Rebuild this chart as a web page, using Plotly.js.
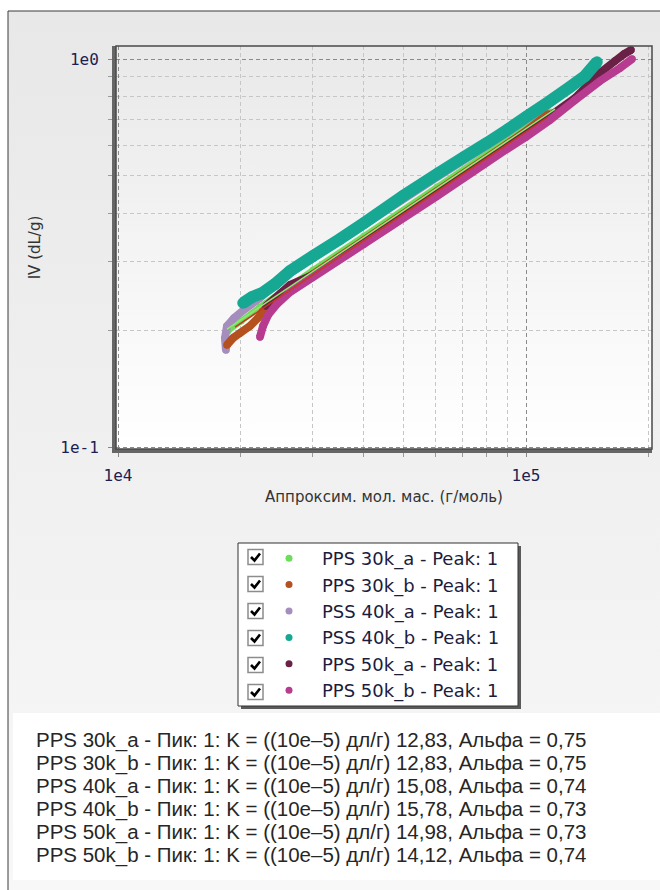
<!DOCTYPE html>
<html>
<head>
<meta charset="utf-8">
<script src="https://cdn.plot.ly/plotly-3.0.1.min.js"></script>
<style>html,body{margin:0;padding:0;background:#fff;}#chart{width:660px;height:890px;}</style>
</head>
<body>
<div id="chart"></div>
<script>
// ---- data ----
const legendNames = ['PPS 30k_a - Peak: 1','PPS 30k_b - Peak: 1','PSS 40k_a - Peak: 1','PSS 40k_b - Peak: 1','PPS 50k_a - Peak: 1','PPS 50k_b - Peak: 1'];
const sampleNames = ['PPS 30k_a','PPS 30k_b','PPS 40k_a','PPS 40k_b','PPS 50k_a','PPS 50k_b'];
const kValues = [12.83, 12.83, 15.08, 15.78, 14.98, 14.12];
const alphaValues = [0.75, 0.75, 0.74, 0.73, 0.73, 0.74];

const m30a = [18600, 20030, 22280, 24950, 30060, 40090, 60520, 89830, 114500];
const iv30a = [0.1991, 0.2112, 0.2295, 0.2493, 0.2858, 0.3499, 0.4678, 0.6184, 0.7304];
const m30b = [18500, 19140, 19910, 21060, 22030, 22670, 24950, 30060, 40090, 60520, 89830, 100000, 113200];
const iv30b = [0.1832, 0.1909, 0.1967, 0.2050, 0.2150, 0.2241, 0.2449, 0.2792, 0.3416, 0.4568, 0.6039, 0.6522, 0.7215];
const m40a = [18390, 18290, 18500, 19250, 20480, 22280, 24260, 26400, 30060, 40090, 60520, 89830, 111300, 121100];
const iv40a = [0.1778, 0.1909, 0.2050, 0.2150, 0.2268, 0.2421, 0.2630, 0.2808, 0.3070, 0.3734, 0.4963, 0.6446, 0.7520, 0.8028];
const m40b = [20250, 21300, 22540, 24260, 26400, 30060, 35000, 40090, 49940, 60520, 70470, 80230, 89830, 100000, 114500, 128200, 139500, 149300];
const iv40b = [0.2350, 0.2435, 0.2493, 0.2630, 0.2841, 0.3107, 0.3437, 0.3779, 0.4434, 0.5052, 0.5590, 0.6075, 0.6561, 0.7088, 0.7793, 0.8470, 0.9041, 0.9824];
const m50a = [23050, 26400, 30060, 40090, 60520, 89830, 114500, 131900, 151800, 165200, 173900, 180900];
const iv50a = [0.2309, 0.2615, 0.2775, 0.3396, 0.4541, 0.6004, 0.7130, 0.7935, 0.9203, 0.9882, 1.030, 1.055];
const m50b = [22280, 22670, 23320, 24530, 26400, 30060, 40090, 60520, 89830, 100000, 114500, 131900, 151800, 170000, 181900];
const iv50b = [0.1921, 0.2050, 0.2188, 0.2336, 0.2508, 0.2742, 0.3336, 0.4434, 0.5861, 0.6295, 0.6963, 0.7839, 0.8776, 0.9480, 1.0];

// thin fit lines seen across the band
const fitGreenM = [18500, 117800], fitGreenIV = [0.2014, 0.7430];
const fitRedM = [19360, 113200], fitRedIV = [0.2038, 0.7088];

const xMajor = [1e4, 1e5], xMajorText = ['1e4', '1e5'];
const xMinor = [2e4, 3e4, 4e4, 5e4, 6e4, 7e4, 8e4, 9e4, 2e5];
const yMajor = [0.1, 1], yMajorText = ['1e-1', '1e0'];
const yMinor = [0.2, 0.3, 0.4, 0.5, 0.6, 0.7, 0.8, 0.9];

// ---- styles ----
const colors = ['#6edc5c', '#b5511f', '#a58dbd', '#17a893', '#6b2146', '#b73b8f'];
const bandWidth = [6, 8, 8, 12, 8, 8];
const seriesX = [m30a, m30b, m40a, m40b, m50a, m50b];
const seriesY = [iv30a, iv30b, iv40a, iv40b, iv50a, iv50b];
const drawOrder = [0, 2, 1, 4, 5, 3];

const L = 116, R = 652, T = 46, B = 449;
const PX = p => (p - L) / (R - L);
const PY = p => (B - p) / (B - T);

const traces = [];
drawOrder.forEach(i => {
  traces.push({
    x: seriesX[i], y: seriesY[i], type: 'scatter', mode: 'lines+markers',
    line: {color: colors[i], width: bandWidth[i], simplify: false},
    marker: {color: colors[i], size: bandWidth[i] - 0.5, line: {width: 0}},
    legendgroup: 'g' + i, showlegend: false, hoverinfo: 'skip'
  });
  traces.push({
    x: seriesX[i], y: seriesY[i], type: 'scatter', mode: 'markers',
    marker: {color: colors[i], size: 7, line: {width: 0}},
    name: legendNames[i], legendgroup: 'g' + i, legendrank: i + 1, showlegend: true
  });
});
traces.push({x: fitGreenM, y: fitGreenIV, type: 'scatter', mode: 'lines', line: {color: '#90ea70', width: 1.5}, showlegend: false, hoverinfo: 'skip'});
traces.push({x: fitRedM, y: fitRedIV, type: 'scatter', mode: 'lines', line: {color: '#c23a22', width: 1.5}, showlegend: false, hoverinfo: 'skip'});

function grad(c1, c2) {
  const svg = '<svg xmlns="http://www.w3.org/2000/svg" width="10" height="100" viewBox="0 0 10 100" preserveAspectRatio="none">' +
    '<defs><linearGradient id="g" x1="0" y1="0" x2="0" y2="1"><stop offset="0" stop-color="' + c1 + '"/><stop offset="1" stop-color="' + c2 + '"/></linearGradient></defs>' +
    '<rect width="10" height="100" fill="url(#g)"/></svg>';
  return 'data:image/svg+xml;charset=utf-8,' + encodeURIComponent(svg);
}

const shapes = [];
// frame lines
shapes.push({type: 'line', xref: 'paper', yref: 'paper', x0: PX(8), x1: PX(8), y0: PY(11), y1: PY(890), line: {color: '#3a3a3a', width: 1}, layer: 'below'});
shapes.push({type: 'line', xref: 'paper', yref: 'paper', x0: PX(8), x1: PX(660), y0: PY(11), y1: PY(11), line: {color: '#3a3a3a', width: 1}, layer: 'below'});
// plot border (top/right)
shapes.push({type: 'rect', xref: 'paper', yref: 'paper', x0: 0, x1: 1, y0: 0, y1: 1, line: {color: '#4a4a4a', width: 1.5}, layer: 'above'});
// legend box with shadow
shapes.push({type: 'rect', xref: 'paper', yref: 'paper', x0: PX(241), x1: PX(521), y0: PY(709), y1: PY(546), fillcolor: '#5a5a5a', line: {width: 0}, layer: 'below'});
shapes.push({type: 'rect', xref: 'paper', yref: 'paper', x0: PX(238), x1: PX(518), y0: PY(706), y1: PY(543), fillcolor: '#ffffff', line: {color: '#333', width: 1}, layer: 'below'});
// bottom text panel
shapes.push({type: 'rect', xref: 'paper', yref: 'paper', x0: PX(13), x1: PX(662), y0: PY(880), y1: PY(713), fillcolor: '#ffffff', line: {width: 0}, layer: 'below'});
// checkboxes
const rowY = [557, 584, 611, 638, 665, 692];
rowY.forEach(cy => {
  shapes.push({type: 'rect', xref: 'paper', yref: 'paper', x0: PX(248), x1: PX(263), y0: PY(cy + 7.5), y1: PY(cy - 7.5), fillcolor: '#fff', line: {color: '#8c8c8c', width: 1.5}, layer: 'above'});
  const p = 'M' + PX(251) + ',' + PY(cy) + ' L' + PX(254.5) + ',' + PY(cy + 3.5) + ' L' + PX(260) + ',' + PY(cy - 3.5);
  shapes.push({type: 'path', xref: 'paper', yref: 'paper', path: p, line: {color: '#000', width: 2.6}, layer: 'above'});
});

const annotations = sampleNames.map((n, i) => ({
  xref: 'paper', yref: 'paper', x: PX(34), y: PY(740 + 23 * i), xanchor: 'left', yanchor: 'middle', showarrow: false,
  text: n + ' - Пик: 1: K = ((10e–5) дл/г) ' + kValues[i].toFixed(2).replace('.', ',') + ', Альфа = ' + alphaValues[i].toFixed(2).replace('.', ','),
  font: {family: 'Liberation Sans, Arial, sans-serif', size: 20.5, color: '#262626'}
}));

const tickFont = {family: 'DejaVu Sans Mono, monospace', size: 16, color: '#1e1e52'};
const layout = {
  width: 660, height: 890,
  margin: {l: L, r: 660 - R, t: T, b: 890 - B, pad: 0},
  paper_bgcolor: '#ffffff', plot_bgcolor: 'rgba(0,0,0,0)',
  showlegend: true,
  images: [
    {source: grad('#e8e8e8', '#f8f8f8'), xref: 'paper', yref: 'paper', x: PX(8), y: PY(11), sizex: PX(700) - PX(8), sizey: PY(11) - PY(900), xanchor: 'left', yanchor: 'top', sizing: 'stretch', layer: 'below'},
    {source: grad('#e9e9e9', '#ffffff'), xref: 'paper', yref: 'paper', x: 0, y: 1, sizex: 1, sizey: 1, xanchor: 'left', yanchor: 'top', sizing: 'stretch', layer: 'below'}
  ],
  xaxis: {
    type: 'log', range: [Math.log10(1e4) - 2 / 408, Math.log10(1e4) + (R - 118) / 408],
    tickmode: 'array', tickvals: xMajor, ticktext: xMajorText,
    showgrid: true, gridcolor: '#8a8a8a', griddash: '4px,3px', gridwidth: 1,
    minor: {tickmode: 'array', tickvals: xMinor, showgrid: true, gridcolor: '#c6c6c6', griddash: '4px,3px', gridwidth: 1, ticks: 'outside', ticklen: 4, tickcolor: '#9a9a9a'},
    ticks: 'outside', ticklen: 4, tickcolor: '#888',
    showline: true, linecolor: '#666', linewidth: 4, zeroline: false,
    tickfont: tickFont, ticklabelstandoff: 5, automargin: false,
    title: {text: 'Аппроксим. мол. мас. (г/моль)', font: {family: 'DejaVu Sans, sans-serif', size: 15, color: '#333'}, standoff: 8}
  },
  yaxis: {
    type: 'log', range: [-1 - (B - 447) / 388, (59 - T) / 388],
    tickmode: 'array', tickvals: yMajor, ticktext: yMajorText,
    showgrid: true, gridcolor: '#8a8a8a', griddash: '4px,3px', gridwidth: 1,
    minor: {tickmode: 'array', tickvals: yMinor, showgrid: true, gridcolor: '#c6c6c6', griddash: '4px,3px', gridwidth: 1, ticks: 'outside', ticklen: 4, tickcolor: '#9a9a9a'},
    ticks: 'outside', ticklen: 4, tickcolor: '#888',
    showline: true, linecolor: '#666', linewidth: 4, zeroline: false,
    tickfont: tickFont, ticklabelstandoff: 6, automargin: false,
    title: {text: 'IV (dL/g)', font: {family: 'DejaVu Sans, sans-serif', size: 15, color: '#333'}, standoff: 17}
  },
  legend: {
    x: PX(256), y: PY(540), xanchor: 'left', yanchor: 'top',
    bgcolor: 'rgba(0,0,0,0)', borderwidth: 0,
    font: {family: 'DejaVu Sans, sans-serif', size: 18, color: '#1c1c3c'},
    itemwidth: 56, tracegroupgap: 0, itemclick: false, itemdoubleclick: false
  },
  shapes: shapes,
  annotations: annotations
};

Plotly.newPlot('chart', traces, layout, {displayModeBar: false, responsive: false});
</script>
</body>
</html>
